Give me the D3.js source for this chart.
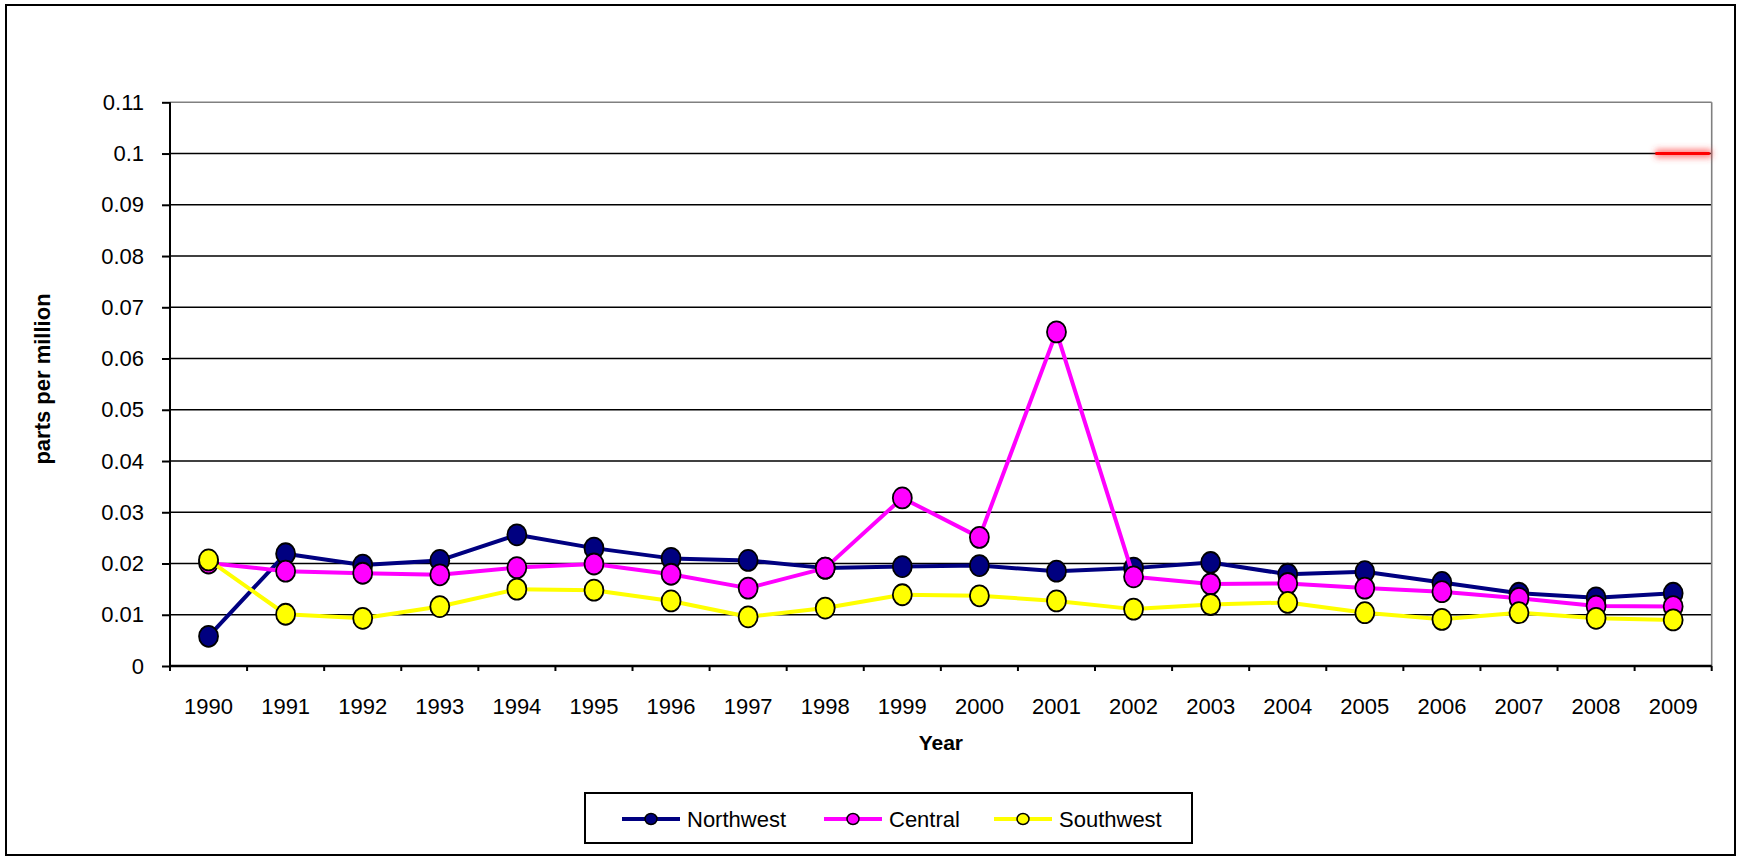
<!DOCTYPE html>
<html><head><meta charset="utf-8">
<script src="https://cdn.jsdelivr.net/npm/d3@7"></script>
<style>body{margin:0;background:#fff}svg{display:block}text{font-family:"Liberation Sans",Arial,sans-serif;fill:#000}</style>
</head><body><svg id="c" width="1739" height="858"></svg>
<script>
const years = ["1990","1991","1992","1993","1994","1995","1996","1997","1998","1999","2000","2001","2002","2003","2004","2005","2006","2007","2008","2009"];
const northwest = [0.0058,0.0219,0.0197,0.0206,0.0256,0.0230,0.0210,0.0206,0.0191,0.0194,0.0196,0.0185,0.0191,0.0202,0.0179,0.0184,0.0163,0.0142,0.0133,0.0142];
const central   = [0.0201,0.0185,0.0181,0.0178,0.0192,0.0199,0.0179,0.0152,0.0191,0.0328,0.0251,0.0652,0.0174,0.0160,0.0161,0.0152,0.0145,0.0132,0.0117,0.0116];
const southwest = [0.0207,0.0101,0.0093,0.0116,0.0150,0.0148,0.0127,0.0096,0.0113,0.0139,0.0137,0.0127,0.0111,0.0120,0.0124,0.0104,0.0091,0.0104,0.0093,0.0090];
const yTicks = [0,0.01,0.02,0.03,0.04,0.05,0.06,0.07,0.08,0.09,0.1,0.11];
const seriesNames = ["Northwest","Central","Southwest"];
const seriesColors = ["#000080","#ff00ff","#ffff00"];
const standardYear = "2009";
const standardValue = 0.1;
const xTitle = "Year";
const yTitle = "parts per million";

const svg = d3.select("#c");
const L = 170, R = 1711.7, T = 102.3, B = 666;
const x = d3.scaleBand().domain(years).range([L, R]).padding(0);
const y = d3.scaleLinear().domain([0, 0.11]).range([B, T]);
const bw = x.bandwidth();
const cx = d => x(d) + bw / 2;

// outer frame
svg.append("rect").attr("x", 6).attr("y", 5).attr("width", 1729).attr("height", 850)
  .attr("fill", "#fff").attr("stroke", "#000").attr("stroke-width", 2);

// gridlines
const g = svg.append("g");
g.selectAll("line.grid").data(yTicks.filter(v => v > 0)).join("line")
  .attr("x1", L).attr("x2", R).attr("y1", d => y(d)).attr("y2", d => y(d))
  .attr("stroke", d => d === 0.11 ? "#808080" : "#000").attr("stroke-width", 1.6);
g.append("line").attr("x1", R).attr("x2", R).attr("y1", T).attr("y2", B)
  .attr("stroke", "#808080").attr("stroke-width", 1.6);

// y axis
const yAxis = svg.append("g").attr("transform", `translate(${L},0)`)
  .call(d3.axisLeft(y).tickValues(yTicks).tickSize(8).tickPadding(18)
    .tickFormat(d => String(+d.toFixed(2))));
yAxis.select(".domain").attr("stroke", "#000").attr("stroke-width", 2).attr("d", `M0,${T}V${B}`);
yAxis.selectAll(".tick line").attr("stroke", "#000").attr("stroke-width", 2);
yAxis.selectAll(".tick text").attr("font-size", 22).attr("font-family", "Liberation Sans, Arial, sans-serif").attr("fill", "#000");

// x axis
const xAxis = svg.append("g").attr("transform", `translate(0,${B})`)
  .call(d3.axisBottom(x).tickSize(0).tickPadding(32));
xAxis.select(".domain").attr("stroke", "#000").attr("stroke-width", 2.5).attr("d", `M${L},0H${R}`);
xAxis.selectAll(".tick text").attr("font-size", 22).attr("font-family", "Liberation Sans, Arial, sans-serif").attr("fill", "#000");
xAxis.selectAll("line.bt").data(years.concat(["end"])).join("line").attr("class", "bt")
  .attr("x1", d => d === "end" ? R : x(d)).attr("x2", d => d === "end" ? R : x(d))
  .attr("y1", 0).attr("y2", 5).attr("stroke", "#000").attr("stroke-width", 2);

// axis titles
svg.append("text").attr("x", (L + R) / 2).attr("y", 750).attr("text-anchor", "middle")
  .attr("font-size", 21).attr("font-weight", "bold").text(xTitle);
svg.append("text").attr("transform", `translate(50,379) rotate(-90)`)
  .attr("text-anchor", "middle").attr("font-size", 22).attr("font-weight", "bold").text(yTitle);

// standard line with glow
const defs = svg.append("defs");
defs.append("filter").attr("id", "glow").attr("filterUnits", "userSpaceOnUse")
  .attr("x", 1600).attr("y", 120).attr("width", 139).attr("height", 70)
  .append("feGaussianBlur").attr("stdDeviation", 3);
const sx1 = x(standardYear) + bw * 0.27, sx2 = x(standardYear) + bw;
svg.append("rect").attr("x", sx1).attr("width", sx2 - sx1).attr("y", y(standardValue) - 4).attr("height", 8)
  .attr("fill", "#ff4040").attr("fill-opacity", 0.7).attr("filter", "url(#glow)");
svg.append("line").attr("x1", sx1).attr("x2", sx2 - 2).attr("y1", y(standardValue)).attr("y2", y(standardValue))
  .attr("stroke", "#ff0000").attr("stroke-width", 3);

// series
const series = [northwest, central, southwest];
const line = d3.line().x((d, i) => cx(years[i])).y(d => y(d));
series.forEach((vals, si) => {
  const sg = svg.append("g");
  sg.append("path").attr("d", line(vals)).attr("fill", "none")
    .attr("stroke", seriesColors[si]).attr("stroke-width", 4).attr("stroke-linejoin", "round");
  sg.selectAll("ellipse").data(vals).join("ellipse")
    .attr("cx", (d, i) => cx(years[i])).attr("cy", d => y(d))
    .attr("rx", 9.5).attr("ry", 10.5)
    .attr("fill", seriesColors[si]).attr("stroke", "#000").attr("stroke-width", 1.8);
});

// legend
const lg = svg.append("g");
lg.append("rect").attr("x", 585).attr("y", 793).attr("width", 607).attr("height", 50)
  .attr("fill", "#fff").attr("stroke", "#000").attr("stroke-width", 2);
const legX = [622, 824, 994];
seriesNames.forEach((name, i) => {
  const ly = 819;
  lg.append("line").attr("x1", legX[i]).attr("x2", legX[i] + 58).attr("y1", ly).attr("y2", ly)
    .attr("stroke", seriesColors[i]).attr("stroke-width", 4);
  lg.append("ellipse").attr("cx", legX[i] + 29).attr("cy", ly).attr("rx", 6).attr("ry", 5.5)
    .attr("fill", seriesColors[i]).attr("stroke", "#000").attr("stroke-width", 1.5);
  lg.append("text").attr("x", legX[i] + 65).attr("y", ly).attr("dy", "0.36em")
    .attr("font-size", 22).text(name);
});
</script></body></html>
